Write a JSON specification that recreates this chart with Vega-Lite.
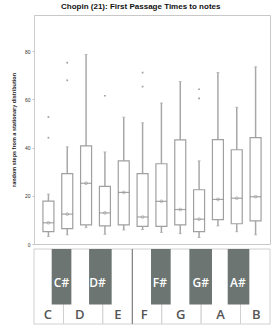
{
  "$schema": "https://vega.github.io/schema/vega-lite/v6.json",
  "padding": {"left": 10, "top": 2, "right": 4, "bottom": 5},
  "title": {"text": "Chopin (21): First Passage Times to notes", "font": "Liberation Sans", "fontSize": 8, "fontWeight": "bold", "color": "#111", "offset": 4, "anchor": "middle"},
  "datasets": {
    "boxes": [
      {"note": "C", "pos": 0.5, "lo": 3.1, "q1": 5.1, "med": 8.8, "mean": 8.8, "q3": 17.8, "hi": 20.7},
      {"note": "C#", "pos": 1.5, "lo": 3.8, "q1": 6.4, "med": 12.4, "mean": 12.4, "q3": 29.2, "hi": 40.3},
      {"note": "D", "pos": 2.5, "lo": 6.8, "q1": 7.9, "med": 25.2, "mean": 25.2, "q3": 40.7, "hi": 78.6},
      {"note": "D#", "pos": 3.5, "lo": 4.0, "q1": 7.5, "med": 12.9, "mean": 12.9, "q3": 23.9, "hi": 38.2},
      {"note": "E", "pos": 4.5, "lo": 5.8, "q1": 7.9, "med": 21.4, "mean": 21.4, "q3": 34.5, "hi": 52.6},
      {"note": "F", "pos": 5.5, "lo": 6.0, "q1": 7.3, "med": 11.2, "mean": 11.2, "q3": 29.2, "hi": 50.3},
      {"note": "F#", "pos": 6.5, "lo": 4.8, "q1": 7.3, "med": 17.7, "mean": 17.7, "q3": 33.3, "hi": 58.5},
      {"note": "G", "pos": 7.5, "lo": 4.3, "q1": 7.9, "med": 14.3, "mean": 14.3, "q3": 43.2, "hi": 67.4},
      {"note": "G#", "pos": 8.5, "lo": 2.7, "q1": 5.1, "med": 10.3, "mean": 10.3, "q3": 22.5, "hi": 34.5},
      {"note": "A", "pos": 9.5, "lo": 7.5, "q1": 10.1, "med": 18.5, "mean": 18.5, "q3": 43.3, "hi": 71.1},
      {"note": "A#", "pos": 10.5, "lo": 5.1, "q1": 8.4, "med": 19.0, "mean": 19.0, "q3": 39.1, "hi": 56.7},
      {"note": "B", "pos": 11.5, "lo": 3.8, "q1": 9.6, "med": 19.6, "mean": 19.6, "q3": 44.1, "hi": 73.5}
    ],
    "outliers": [
      {"pos": 0.5, "value": 52.7}, {"pos": 0.5, "value": 44.1},
      {"pos": 1.5, "value": 75.2}, {"pos": 1.5, "value": 67.9},
      {"pos": 3.5, "value": 61.5},
      {"pos": 5.5, "value": 71.1}, {"pos": 5.5, "value": 65.3},
      {"pos": 8.5, "value": 64.2}, {"pos": 8.5, "value": 60.4}
    ],
    "white": [
      {"key": "C", "x1": 0, "x2": 1.5, "lx": 0.71},
      {"key": "D", "x1": 1.5, "x2": 3.5, "lx": 2.33},
      {"key": "E", "x1": 3.5, "x2": 5, "lx": 4.26},
      {"key": "F", "x1": 5, "x2": 6.5, "lx": 5.6},
      {"key": "G", "x1": 6.5, "x2": 8.5, "lx": 7.46},
      {"key": "A", "x1": 8.5, "x2": 10.5, "lx": 9.49},
      {"key": "B", "x1": 10.5, "x2": 12, "lx": 11.3}
    ],
    "black": [
      {"key": "C#", "x1": 0.9, "x2": 1.9, "lx": 1.4},
      {"key": "D#", "x1": 2.8, "x2": 3.95, "lx": 3.23},
      {"key": "F#", "x1": 5.95, "x2": 6.95, "lx": 6.4},
      {"key": "G#", "x1": 7.9, "x2": 9.05, "lx": 8.48},
      {"key": "A#", "x1": 9.85, "x2": 10.95, "lx": 10.37}
    ]
  },
  "config": {"view": {"stroke": null}},
  "spacing": 0,
  "vconcat": [
    {
      "width": 236,
      "height": 229,
      "view": {"stroke": "#c8c8c8"},
      "layer": [
        {
          "data": {"name": "boxes"},
          "mark": {"type": "rule", "color": "#a8a8a8", "strokeWidth": 1.5},
          "encoding": {
            "x": {"field": "pos", "type": "quantitative", "scale": {"domain": [0, 12], "nice": false}, "axis": null},
            "y": {"field": "lo", "type": "quantitative", "scale": {"domain": [0, 95], "nice": false},
              "axis": {"title": "random steps from a stationary distribution", "values": [0, 10, 20, 30, 40, 50, 60, 70, 80, 90],
                "labelExpr": "datum.value % 20 === 0 ? datum.label : ''", "grid": false,
                "domainColor": "#d0d0d0", "domainDash": [1, 1], "tickColor": "#c0c0c0", "tickSize": 2, "labelPadding": 2,
                "labelFontSize": 5, "labelColor": "#333", "labelFont": "Liberation Sans",
                "titleFontSize": 5.5, "titleFont": "Liberation Sans", "titleFontWeight": "bold", "titleColor": "#222", "titlePadding": 8}},
            "y2": {"field": "hi"}
          }
        },
        {
          "data": {"name": "boxes"},
          "mark": {"type": "tick", "orient": "horizontal", "color": "#a8a8a8", "size": 3, "thickness": 1},
          "encoding": {
            "x": {"field": "pos", "type": "quantitative"},
            "y": {"field": "hi", "type": "quantitative"}
          }
        },
        {
          "data": {"name": "boxes"},
          "mark": {"type": "tick", "orient": "horizontal", "color": "#a8a8a8", "size": 3, "thickness": 1},
          "encoding": {
            "x": {"field": "pos", "type": "quantitative"},
            "y": {"field": "lo", "type": "quantitative"}
          }
        },
        {
          "data": {"name": "boxes"},
          "mark": {"type": "bar", "width": 11, "fill": "white", "stroke": "#a0a0a0", "strokeWidth": 1.2},
          "encoding": {
            "x": {"field": "pos", "type": "quantitative"},
            "y": {"field": "q1", "type": "quantitative"},
            "y2": {"field": "q3"}
          }
        },
        {
          "data": {"name": "boxes"},
          "mark": {"type": "tick", "orient": "horizontal", "color": "#808080", "size": 11, "thickness": 1.2},
          "encoding": {
            "x": {"field": "pos", "type": "quantitative"},
            "y": {"field": "med", "type": "quantitative"}
          }
        },
        {
          "data": {"name": "boxes"},
          "mark": {"type": "point", "shape": "circle", "size": 8, "filled": false, "stroke": "#909090", "strokeWidth": 0.8},
          "encoding": {
            "x": {"field": "pos", "type": "quantitative"},
            "y": {"field": "mean", "type": "quantitative"}
          }
        },
        {
          "data": {"name": "outliers"},
          "mark": {"type": "point", "shape": "square", "size": 3, "filled": true, "color": "#a0a0a0", "opacity": 1},
          "encoding": {
            "x": {"field": "pos", "type": "quantitative"},
            "y": {"field": "value", "type": "quantitative"}
          }
        }
      ]
    },
    {
      "width": 236,
      "height": 75,
      "layer": [
        {
          "data": {"name": "white"},
          "mark": {"type": "rect", "fill": "white", "stroke": "#d0d0d0", "strokeWidth": 1},
          "encoding": {
            "x": {"field": "x1", "type": "quantitative", "scale": {"domain": [0, 12], "nice": false}, "axis": null},
            "x2": {"field": "x2"},
            "y": {"datum": 0, "type": "quantitative", "scale": {"domain": [0, 1], "nice": false}, "axis": null},
            "y2": {"datum": 1}
          }
        },
        {
          "data": {"name": "black"},
          "mark": {"type": "rect", "fill": "#6c7571"},
          "encoding": {
            "x": {"field": "x1", "type": "quantitative"},
            "x2": {"field": "x2"},
            "y": {"datum": 0.26, "type": "quantitative"},
            "y2": {"datum": 1}
          }
        },
        {
          "data": {"values": [{"b": 5}]},
          "mark": {"type": "rule", "color": "#777", "strokeWidth": 1},
          "encoding": {
            "x": {"field": "b", "type": "quantitative"},
            "y": {"datum": 0, "type": "quantitative"},
            "y2": {"datum": 1}
          }
        },
        {
          "data": {"name": "white"},
          "mark": {"type": "text", "font": "Open Sans", "fontSize": 13, "fontWeight": 600, "color": "#555555", "baseline": "middle", "align": "center"},
          "encoding": {
            "x": {"field": "lx", "type": "quantitative"},
            "y": {"datum": 0.12, "type": "quantitative"},
            "text": {"field": "key"}
          }
        },
        {
          "data": {"name": "black"},
          "mark": {"type": "text", "font": "Open Sans", "fontSize": 12, "fontWeight": 600, "color": "white", "baseline": "middle", "align": "center"},
          "encoding": {
            "x": {"field": "lx", "type": "quantitative"},
            "y": {"datum": 0.55, "type": "quantitative"},
            "text": {"field": "key"}
          }
        }
      ]
    }
  ]
}
